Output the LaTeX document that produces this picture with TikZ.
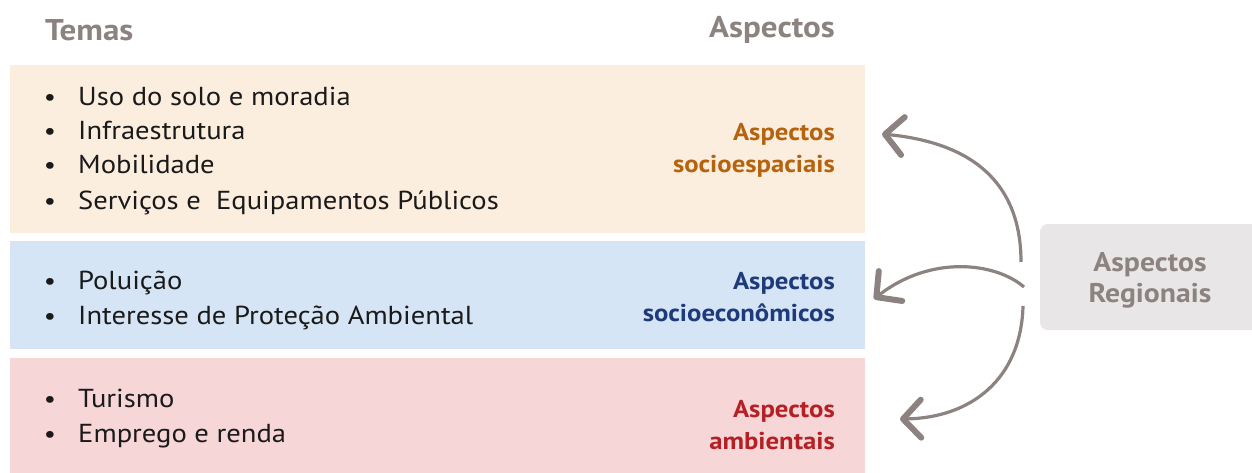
\documentclass[tikz,border=0pt]{standalone}
\usepackage{fontspec}
\setmainfont{PT Sans}[FakeStretch=1.1]
\usetikzlibrary{arrows.meta}
\definecolor{hdr}{HTML}{8C8381}
\definecolor{bandA}{HTML}{FCEEDF}
\definecolor{bandB}{HTML}{D5E5F5}
\definecolor{bandC}{HTML}{F6D6D6}
\definecolor{regfill}{HTML}{E8E6E6}
\definecolor{labA}{HTML}{B5630F}
\definecolor{labB}{HTML}{1F3A7A}
\definecolor{labC}{HTML}{B52025}
\definecolor{arr}{HTML}{8C8381}
\definecolor{txt}{HTML}{1A1A1A}
\tikzset{
  header/.style={font=\fontsize{30}{32}\selectfont\bfseries, text=hdr, inner sep=0pt},
  item/.style={font=\fontsize{26}{30}\selectfont, text=txt, anchor=base west, inner sep=0pt},
  bul/.style={font=\fontsize{24.5}{28}\selectfont, text=txt, anchor=base, inner sep=0pt},
  lab/.style={font=\fontsize{24.3}{32}\selectfont\bfseries, align=right, anchor=east, inner sep=0pt},
  curvearrow/.style={draw=arr, line width=3.2pt, -{Straight Barb[length=18pt,width=38pt,line width'=6pt,round]}}
}
\begin{document}
\begin{tikzpicture}[x=1pt,y=-1pt]
\useasboundingbox (0,0) rectangle (1252,473);
% bands
\fill[bandA] (10,65) rectangle (865,233);
\fill[bandB] (10,241) rectangle (865,349);
\fill[bandC] (10,358) rectangle (865,473);
% headers
\node[header, anchor=west] (temas) at (45,30) {Temas};
\node[header, anchor=east] (asp) at (835,30) {Aspectos};
% band 1 items
\node[bul] (b1) at (50,106) {•};
\node[item] (i1) at (78,106) {Uso do solo e moradia};
\node[bul] (b2) at (50,140) {•};
\node[item] (i2) at (78,140) {Infraestrutura};
\node[bul] (b3) at (50,174) {•};
\node[item] (i3) at (78,174) {Mobilidade};
\node[bul] (b4) at (50,209) {•};
\node[item] (i4) at (78,209) {Serviços e\ \ Equipamentos Públicos};
% band 2 items
\node[bul] (b5) at (50,289) {•};
\node[item] (i5) at (78,289) {Poluição};
\node[bul] (b6) at (50,324) {•};
\node[item] (i6) at (78,324) {Interesse de Proteção Ambiental};
% band 3 items
\node[bul] (b7) at (50,407) {•};
\node[item] (i7) at (78,407) {Turismo};
\node[bul] (b8) at (50,442) {•};
\node[item] (i8) at (78,442) {Emprego e renda};
% labels
\node[lab, text=labA] (la) at (835,150) {Aspectos\\socioespaciais};
\node[lab, text=labB] (lb) at (835,297) {Aspectos\\socioeconômicos};
\node[lab, text=labC] (lc) at (835,425) {Aspectos\\ambientais};
% regional box
\fill[regfill, rounded corners=8pt] (1040,224) rectangle (1262,330);
\node[font=\fontsize{27}{31}\selectfont\bfseries, text=hdr, align=center, inner sep=0pt] (reg) at (1150,280) {Aspectos\\Regionais};
% arrow endpoints
\coordinate (s1) at (1021,262);
\coordinate (e1) at (882,134);
\coordinate (s2) at (1024,287);
\coordinate (e2) at (874,299);
\coordinate (s3) at (1023,306);
\coordinate (e3) at (900,419);
\draw[curvearrow] (s1) .. controls (1021,185) and (975,143) .. (e1);
\draw[curvearrow] (s2) .. controls (995,262) and (930,255) .. (e2);
\draw[curvearrow] (s3) .. controls (1021,380) and (970,418) .. (e3);
\end{tikzpicture}
\end{document}
